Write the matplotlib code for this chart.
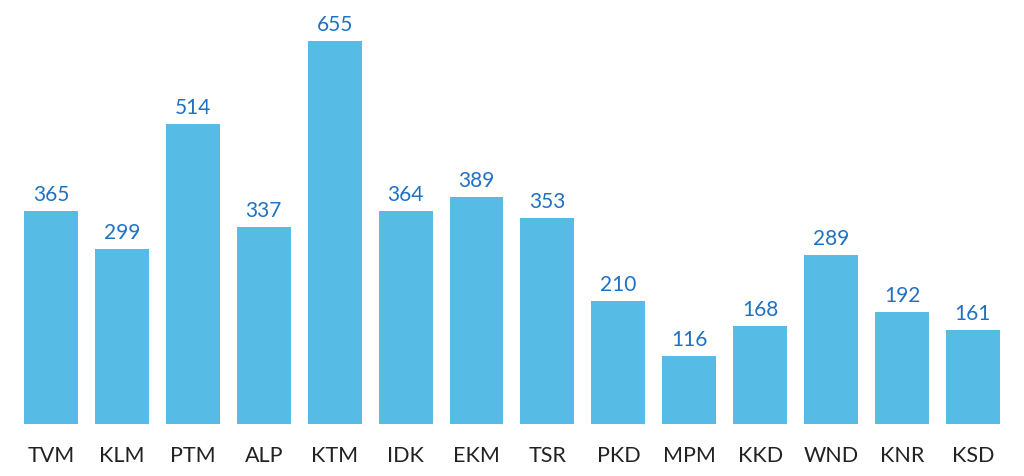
import numpy as np
import matplotlib
matplotlib.use("Agg")
import matplotlib.pyplot as plt

districts = ["TVM", "KLM", "PTM", "ALP", "KTM", "IDK", "EKM", "TSR",
             "PKD", "MPM", "KKD", "WND", "KNR", "KSD"]
counts = [365, 299, 514, 337, 655, 364, 389, 353, 210, 116, 168, 289, 192, 161]

plt.rcParams['font.family'] = ['Lato', 'DejaVu Sans']

fig = plt.figure(figsize=(10.24, 4.77), dpi=100)
ax = fig.add_axes([0, 52/477, 1, 425/477])

x = np.arange(len(districts))
bars = ax.bar(x, counts, width=0.76, color='#56BCE6')

for xi, v in zip(x, counts):
    ax.annotate(str(v), (xi, v), xytext=(0, 5), textcoords='offset points',
                ha='center', va='bottom', fontsize=15, color='#1F72C1')

ax.set_xlim(-0.719, 13.72)
ax.set_ylim(0, 727)
ax.set_xticks(x)
ax.set_xticklabels(districts, fontsize=15.5, color='#222222')
ax.tick_params(axis='x', length=0, pad=15)
ax.set_yticks([])
for s in ax.spines.values():
    s.set_visible(False)

fig.savefig("out.png", dpi=100)
